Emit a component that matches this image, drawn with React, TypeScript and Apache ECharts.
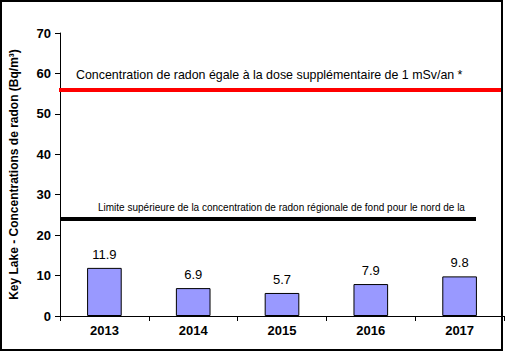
import React, { useEffect, useRef } from "react";
import * as echarts from "echarts";

const years = ["2013", "2014", "2015", "2016", "2017"];
const values = [11.9, 6.9, 5.7, 7.9, 9.8];
const doseLimit = 56;
const regionalLimit = 24;
const doseLabel = "Concentration de radon égale à la dose supplémentaire de 1 mSv/an *";
const regionalLabel = "Limite supérieure de la concentration de radon régionale de fond pour le nord de la";
const yTitle = "Key Lake - Concentrations de radon (Bq/m³)";

export default function App() {
  const ref = useRef<HTMLDivElement>(null);
  useEffect(() => {
    document.body.style.margin = "0";
    const chart = echarts.init(ref.current!, null, { renderer: "svg" });
    chart.setOption({
      animation: false,
      grid: { left: 59, top: 33, right: 1, bottom: 36, containLabel: false },
      xAxis: {
        type: "category",
        data: years,
        axisLine: { lineStyle: { color: "#000", width: 1 } },
        axisTick: { show: true, length: 5, inside: false, lineStyle: { color: "#000" } },
        axisLabel: { color: "#000", fontFamily: "Liberation Sans", fontWeight: "bold", fontSize: 13, margin: 8 },
      },
      yAxis: {
        type: "value",
        min: 0,
        max: 70,
        interval: 10,
        name: yTitle,
        nameLocation: "middle",
        nameGap: 40,
        nameTextStyle: { color: "#000", fontFamily: "Liberation Sans", fontWeight: "bold", fontSize: 12 },
        axisLine: { show: true, lineStyle: { color: "#000", width: 1 } },
        axisTick: { show: true, length: 5, lineStyle: { color: "#000" } },
        splitLine: { show: false },
        axisLabel: { color: "#000", fontFamily: "Liberation Sans", fontWeight: "bold", fontSize: 13, margin: 9 },
      },
      series: [
        {
          type: "bar",
          data: values,
          barWidth: "39%",
          itemStyle: { color: "#9999FF", borderColor: "#000", borderWidth: 1 },
          label: {
            show: true,
            position: "top",
            distance: 7,
            color: "#000",
            fontFamily: "Liberation Sans",
            fontSize: 13,
          },
          markLine: {
            silent: true,
            symbol: "none",
            data: [
              [
                {
                  yAxis: doseLimit,
                  x: 59,
                  lineStyle: { color: "#FF0000", width: 4, type: "solid" },
                  label: {
                    show: true,
                    formatter: doseLabel,
                    position: "insideStartTop",
                    distance: [17, 9],
                    color: "#000",
                    fontFamily: "Liberation Sans",
                    fontSize: 12.4,
                  },
                },
                { yAxis: doseLimit, x: 501 },
              ],
              [
                {
                  yAxis: regionalLimit,
                  x: 61,
                  lineStyle: { color: "#000000", width: 4, type: "solid" },
                  label: {
                    show: true,
                    formatter: regionalLabel,
                    position: "insideStartTop",
                    distance: [37, 6],
                    color: "#000",
                    fontFamily: "Liberation Sans",
                    fontSize: 10,
                  },
                },
                { yAxis: regionalLimit, x: 476 },
              ],
            ],
          },
        },
      ],
      graphic: [
        {
          type: "rect",
          shape: { x: 1, y: 1, width: 501, height: 349 },
          style: { fill: "none", stroke: "#000", lineWidth: 2 },
          z: 100,
        },
      ],
    });
    return () => chart.dispose();
  }, []);
  return <div ref={ref} style={{ position: "absolute", left: 0, top: 0, width: 505, height: 352 }} />;
}
